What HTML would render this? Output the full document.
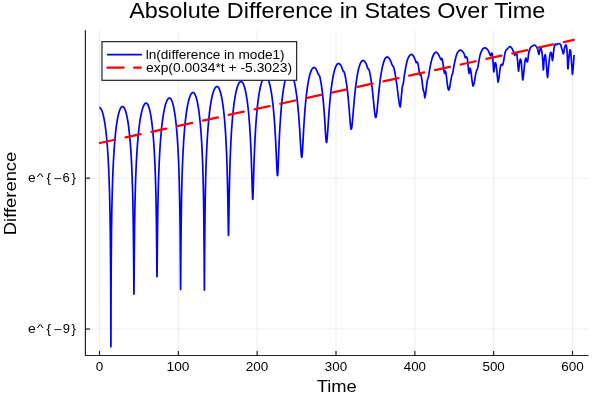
<!DOCTYPE html>
<html><head><meta charset="utf-8"><style>
html,body{margin:0;padding:0;background:#fff;width:600px;height:400px;overflow:hidden;font-family:"Liberation Sans",sans-serif;}
svg{display:block}
</style></head><body>
<svg width="600" height="400" viewBox="0 0 600 400">
<defs><filter id="gs" x="0" y="0" width="600" height="400" filterUnits="userSpaceOnUse"><feColorMatrix type="saturate" values="0"/></filter></defs>
<rect x="0" y="0" width="600" height="400" fill="#fff"/>
<line x1="99.50" y1="30.3" x2="99.50" y2="355.5" stroke="#e9e9e9" stroke-width="0.8"/>
<line x1="178.33" y1="30.3" x2="178.33" y2="355.5" stroke="#e9e9e9" stroke-width="0.8"/>
<line x1="257.17" y1="30.3" x2="257.17" y2="355.5" stroke="#e9e9e9" stroke-width="0.8"/>
<line x1="336.00" y1="30.3" x2="336.00" y2="355.5" stroke="#e9e9e9" stroke-width="0.8"/>
<line x1="414.83" y1="30.3" x2="414.83" y2="355.5" stroke="#e9e9e9" stroke-width="0.8"/>
<line x1="493.66" y1="30.3" x2="493.66" y2="355.5" stroke="#e9e9e9" stroke-width="0.8"/>
<line x1="572.50" y1="30.3" x2="572.50" y2="355.5" stroke="#e9e9e9" stroke-width="0.8"/>
<line x1="85.4" y1="178.15" x2="588.5" y2="178.15" stroke="#e9e9e9" stroke-width="0.8"/>
<line x1="85.4" y1="329.00" x2="588.5" y2="329.00" stroke="#e9e9e9" stroke-width="0.8"/>
<line x1="85.4" y1="30.3" x2="85.4" y2="356.0" stroke="#222" stroke-width="1.2"/>
<line x1="84.9" y1="355.5" x2="588.5" y2="355.5" stroke="#222" stroke-width="1.2"/>
<line x1="99.50" y1="355.5" x2="99.50" y2="350.9" stroke="#222" stroke-width="1.2"/>
<line x1="178.33" y1="355.5" x2="178.33" y2="350.9" stroke="#222" stroke-width="1.2"/>
<line x1="257.17" y1="355.5" x2="257.17" y2="350.9" stroke="#222" stroke-width="1.2"/>
<line x1="336.00" y1="355.5" x2="336.00" y2="350.9" stroke="#222" stroke-width="1.2"/>
<line x1="414.83" y1="355.5" x2="414.83" y2="350.9" stroke="#222" stroke-width="1.2"/>
<line x1="493.66" y1="355.5" x2="493.66" y2="350.9" stroke="#222" stroke-width="1.2"/>
<line x1="572.50" y1="355.5" x2="572.50" y2="350.9" stroke="#222" stroke-width="1.2"/>
<line x1="85.4" y1="178.15" x2="90.0" y2="178.15" stroke="#222" stroke-width="1.2"/>
<line x1="85.4" y1="329.00" x2="90.0" y2="329.00" stroke="#222" stroke-width="1.2"/>
<path d="M99.25,107.50 L99.54,107.54 L99.83,107.65 L100.12,107.85 L100.42,108.12 L100.71,108.47 L101.00,108.91 L101.29,109.42 L101.58,110.02 L101.87,110.70 L102.16,111.47 L102.45,112.34 L102.75,113.29 L103.04,114.35 L103.33,115.50 L103.62,116.76 L103.91,118.14 L104.20,119.63 L104.49,121.25 L104.78,123.00 L105.08,124.90 L105.37,126.95 L105.66,129.17 L105.95,131.57 L106.24,134.17 L106.53,137.00 L106.82,140.08 L107.11,143.45 L107.41,147.13 L107.70,151.20 L107.99,155.71 L108.28,160.75 L108.57,166.44 L108.86,172.94 L109.15,180.50 L109.44,189.50 L109.73,200.55 L110.03,214.85 L110.32,234.98 L110.61,268.87 L110.63,273.03 L110.66,277.53 L110.68,282.45 L110.71,287.85 L110.73,293.83 L110.75,300.49 L110.78,307.95 L110.80,316.31 L110.83,325.53 L110.85,335.10 L110.88,343.29 L110.90,346.75 L110.92,343.16 L110.95,334.72 L110.97,324.95 L111.00,315.60 L111.02,307.16 L111.05,299.64 L111.07,292.95 L111.09,286.94 L111.12,281.52 L111.14,276.59 L111.17,272.08 L111.19,267.92 L111.48,233.99 L111.77,213.85 L112.06,199.56 L112.35,188.50 L112.64,179.50 L112.93,171.94 L113.22,165.44 L113.51,159.75 L113.80,154.71 L114.09,150.20 L114.38,146.14 L114.67,142.45 L114.96,139.08 L115.25,136.00 L115.54,133.17 L115.83,130.57 L116.12,128.17 L116.41,125.95 L116.70,123.90 L116.99,122.00 L117.28,120.25 L117.57,118.63 L117.86,117.14 L118.15,115.76 L118.44,114.50 L118.73,113.35 L119.02,112.29 L119.31,111.34 L119.60,110.47 L119.89,109.70 L120.18,109.02 L120.47,108.42 L120.76,107.91 L121.05,107.47 L121.34,107.12 L121.63,106.85 L121.92,106.65 L122.21,106.54 L122.50,106.50 L122.79,106.54 L123.07,106.65 L123.36,106.85 L123.64,107.12 L123.93,107.47 L124.22,107.91 L124.50,108.42 L124.79,109.02 L125.08,109.70 L125.36,110.47 L125.65,111.33 L125.94,112.29 L126.22,113.34 L126.51,114.50 L126.79,115.76 L127.08,117.13 L127.37,118.62 L127.65,120.24 L127.94,121.99 L128.22,123.88 L128.51,125.93 L128.80,128.15 L129.08,130.55 L129.37,133.15 L129.66,135.97 L129.94,139.05 L130.23,142.41 L130.51,146.09 L130.80,150.14 L131.09,154.64 L131.37,159.66 L131.66,165.32 L131.95,171.78 L132.23,179.29 L132.52,188.19 L132.80,199.07 L133.09,212.99 L133.38,232.08 L133.66,261.19 L133.69,264.31 L133.71,267.54 L133.74,270.87 L133.76,274.28 L133.78,277.73 L133.81,281.16 L133.83,284.47 L133.85,287.56 L133.88,290.25 L133.90,292.37 L133.93,293.73 L133.95,294.20 L133.98,293.66 L134.00,292.11 L134.03,289.73 L134.05,286.73 L134.08,283.33 L134.10,279.72 L134.13,276.03 L134.15,272.36 L134.18,268.76 L134.20,265.26 L134.23,261.89 L134.25,258.66 L134.56,228.94 L134.86,209.71 L135.16,195.74 L135.47,184.83 L135.77,175.92 L136.08,168.41 L136.38,161.94 L136.68,156.27 L136.99,151.25 L137.29,146.75 L137.59,142.69 L137.90,139.01 L138.20,135.65 L138.51,132.58 L138.81,129.75 L139.11,127.15 L139.42,124.75 L139.72,122.53 L140.02,120.49 L140.33,118.59 L140.63,116.84 L140.94,115.22 L141.24,113.73 L141.54,112.36 L141.85,111.10 L142.15,109.94 L142.45,108.89 L142.76,107.93 L143.06,107.07 L143.37,106.30 L143.67,105.62 L143.97,105.02 L144.28,104.51 L144.58,104.07 L144.88,103.72 L145.19,103.45 L145.49,103.25 L145.80,103.14 L146.10,103.10 L146.37,103.14 L146.64,103.25 L146.92,103.45 L147.19,103.72 L147.46,104.07 L147.73,104.51 L148.01,105.02 L148.28,105.62 L148.55,106.30 L148.82,107.07 L149.10,107.93 L149.37,108.89 L149.64,109.94 L149.91,111.09 L150.19,112.35 L150.46,113.73 L150.73,115.22 L151.00,116.83 L151.28,118.58 L151.55,120.47 L151.82,122.52 L152.09,124.73 L152.37,127.13 L152.64,129.73 L152.91,132.55 L153.19,135.62 L153.46,138.97 L153.73,142.65 L154.00,146.69 L154.28,151.18 L154.55,156.18 L154.82,161.82 L155.09,168.25 L155.37,175.70 L155.64,184.52 L155.91,195.26 L156.18,208.87 L156.46,227.15 L156.73,253.19 L156.75,255.76 L156.77,258.36 L156.80,260.96 L156.82,263.55 L156.84,266.08 L156.86,268.50 L156.89,270.75 L156.91,272.75 L156.93,274.42 L156.95,275.69 L156.98,276.48 L157.00,276.75 L157.03,276.42 L157.05,275.45 L157.08,273.92 L157.10,271.92 L157.13,269.57 L157.16,266.96 L157.18,264.19 L157.21,261.34 L157.23,258.45 L157.26,255.58 L157.29,252.74 L157.31,249.96 L157.62,222.69 L157.94,204.07 L158.25,190.33 L158.56,179.53 L158.88,170.68 L159.19,163.21 L159.50,156.76 L159.81,151.11 L160.12,146.10 L160.44,141.61 L160.75,137.56 L161.06,133.89 L161.38,130.53 L161.69,127.46 L162.00,124.64 L162.31,122.04 L162.62,119.64 L162.94,117.43 L163.25,115.38 L163.56,113.48 L163.88,111.74 L164.19,110.12 L164.50,108.63 L164.81,107.26 L165.12,106.00 L165.44,104.84 L165.75,103.79 L166.06,102.83 L166.38,101.97 L166.69,101.20 L167.00,100.52 L167.31,99.92 L167.62,99.41 L167.94,98.97 L168.25,98.62 L168.56,98.35 L168.88,98.15 L169.19,98.04 L169.50,98.00 L169.78,98.04 L170.06,98.15 L170.33,98.35 L170.61,98.62 L170.89,98.97 L171.16,99.41 L171.44,99.92 L171.72,100.52 L172.00,101.20 L172.28,101.97 L172.55,102.83 L172.83,103.79 L173.11,104.84 L173.38,106.00 L173.66,107.26 L173.94,108.63 L174.22,110.12 L174.50,111.74 L174.77,113.49 L175.05,115.39 L175.33,117.43 L175.60,119.65 L175.88,122.05 L176.16,124.65 L176.44,127.48 L176.72,130.55 L176.99,133.91 L177.27,137.59 L177.55,141.65 L177.82,146.15 L178.10,151.17 L178.38,156.84 L178.66,163.31 L178.94,170.82 L179.21,179.73 L179.49,190.64 L179.77,204.62 L180.04,223.86 L180.32,253.63 L180.35,256.88 L180.37,260.26 L180.39,263.77 L180.41,267.38 L180.44,271.08 L180.46,274.79 L180.48,278.42 L180.51,281.85 L180.53,284.88 L180.55,287.29 L180.58,288.86 L180.60,289.40 L180.63,288.72 L180.65,286.80 L180.68,283.88 L180.70,280.30 L180.73,276.33 L180.75,272.21 L180.78,268.08 L180.81,264.03 L180.83,260.11 L180.86,256.35 L180.88,252.76 L180.91,249.35 L181.22,218.73 L181.53,199.29 L181.84,185.24 L182.15,174.29 L182.46,165.36 L182.77,157.84 L183.08,151.36 L183.39,145.69 L183.70,140.66 L184.01,136.16 L184.32,132.10 L184.63,128.42 L184.94,125.06 L185.25,121.98 L185.56,119.16 L185.87,116.55 L186.18,114.15 L186.49,111.94 L186.80,109.89 L187.11,107.99 L187.42,106.24 L187.73,104.63 L188.04,103.13 L188.35,101.76 L188.66,100.50 L188.97,99.34 L189.28,98.29 L189.59,97.33 L189.90,96.47 L190.21,95.70 L190.52,95.02 L190.83,94.42 L191.14,93.91 L191.45,93.47 L191.76,93.12 L192.07,92.85 L192.38,92.65 L192.69,92.54 L193.00,92.50 L193.28,92.54 L193.57,92.65 L193.85,92.85 L194.14,93.12 L194.43,93.47 L194.71,93.91 L195.00,94.42 L195.28,95.02 L195.56,95.70 L195.85,96.47 L196.13,97.33 L196.42,98.29 L196.71,99.34 L196.99,100.50 L197.28,101.76 L197.56,103.13 L197.84,104.63 L198.13,106.24 L198.41,107.99 L198.70,109.89 L198.99,111.94 L199.27,114.15 L199.56,116.56 L199.84,119.16 L200.12,121.98 L200.41,125.06 L200.69,128.42 L200.98,132.11 L201.27,136.16 L201.55,140.66 L201.84,145.69 L202.12,151.36 L202.41,157.84 L202.69,165.37 L202.97,174.30 L203.26,185.25 L203.55,199.31 L203.83,218.78 L204.12,249.51 L204.14,252.95 L204.16,256.56 L204.19,260.36 L204.21,264.31 L204.23,268.42 L204.26,272.61 L204.28,276.81 L204.31,280.85 L204.33,284.52 L204.35,287.52 L204.38,289.50 L204.40,290.20 L204.43,289.32 L204.45,286.84 L204.48,283.19 L204.50,278.83 L204.53,274.15 L204.56,269.41 L204.58,264.76 L204.61,260.29 L204.64,256.03 L204.66,252.00 L204.69,248.19 L204.72,244.58 L205.03,213.09 L205.34,193.45 L205.66,179.33 L205.97,168.35 L206.29,159.40 L206.61,151.87 L206.92,145.38 L207.24,139.71 L207.55,134.68 L207.87,130.17 L208.18,126.11 L208.50,122.43 L208.81,119.07 L209.12,115.99 L209.44,113.16 L209.75,110.56 L210.07,108.16 L210.38,105.94 L210.70,103.89 L211.02,102.00 L211.33,100.24 L211.65,98.63 L211.96,97.14 L212.28,95.76 L212.59,94.50 L212.91,93.34 L213.22,92.29 L213.53,91.34 L213.85,90.47 L214.16,89.70 L214.48,89.02 L214.79,88.42 L215.11,87.91 L215.43,87.47 L215.74,87.12 L216.06,86.85 L216.37,86.65 L216.69,86.54 L217.00,86.50 L217.29,86.54 L217.57,86.65 L217.86,86.85 L218.15,87.12 L218.44,87.47 L218.72,87.90 L219.01,88.42 L219.30,89.01 L219.59,89.69 L219.88,90.46 L220.16,91.32 L220.45,92.28 L220.74,93.33 L221.03,94.48 L221.31,95.74 L221.60,97.10 L221.89,98.59 L222.18,100.20 L222.46,101.95 L222.75,103.83 L223.04,105.87 L223.32,108.08 L223.61,110.46 L223.90,113.05 L224.19,115.86 L224.47,118.91 L224.76,122.24 L225.05,125.89 L225.34,129.90 L225.62,134.34 L225.91,139.28 L226.20,144.83 L226.49,151.14 L226.78,158.41 L227.06,166.92 L227.35,177.11 L227.64,189.64 L227.93,205.35 L228.21,223.99 L228.24,225.51 L228.26,226.98 L228.28,228.39 L228.31,229.73 L228.33,230.96 L228.36,232.09 L228.38,233.08 L228.40,233.93 L228.43,234.60 L228.45,235.10 L228.48,235.40 L228.50,235.50 L228.53,235.38 L228.55,235.01 L228.58,234.41 L228.60,233.59 L228.63,232.58 L228.66,231.39 L228.68,230.06 L228.71,228.61 L228.73,227.06 L228.76,225.43 L228.79,223.75 L228.81,222.03 L229.12,201.74 L229.44,185.37 L229.75,172.55 L230.06,162.20 L230.38,153.61 L230.69,146.29 L231.00,139.94 L231.31,134.37 L231.62,129.40 L231.94,124.95 L232.25,120.93 L232.56,117.28 L232.88,113.94 L233.19,110.88 L233.50,108.07 L233.81,105.48 L234.12,103.09 L234.44,100.89 L234.75,98.84 L235.06,96.96 L235.38,95.21 L235.69,93.60 L236.00,92.11 L236.31,90.74 L236.62,89.48 L236.94,88.33 L237.25,87.28 L237.56,86.33 L237.88,85.47 L238.19,84.70 L238.50,84.01 L238.81,83.42 L239.12,82.90 L239.44,82.47 L239.75,82.12 L240.06,81.85 L240.38,81.65 L240.69,81.54 L241.00,81.50 L241.29,81.54 L241.59,81.65 L241.88,81.85 L242.18,82.12 L242.47,82.46 L242.76,82.89 L243.06,83.40 L243.35,83.99 L243.64,84.67 L243.94,85.44 L244.23,86.29 L244.53,87.23 L244.82,88.28 L245.11,89.42 L245.41,90.66 L245.70,92.02 L245.99,93.49 L246.29,95.08 L246.58,96.81 L246.88,98.67 L247.17,100.68 L247.46,102.85 L247.76,105.20 L248.05,107.74 L248.34,110.50 L248.64,113.48 L248.93,116.73 L249.22,120.27 L249.52,124.15 L249.81,128.41 L250.11,133.13 L250.40,138.37 L250.69,144.23 L250.99,150.83 L251.28,158.32 L251.57,166.82 L251.87,176.35 L252.16,186.49 L252.46,195.43 L252.48,196.01 L252.51,196.55 L252.53,197.05 L252.55,197.50 L252.58,197.91 L252.60,198.27 L252.63,198.58 L252.65,198.84 L252.68,199.04 L252.70,199.18 L252.73,199.27 L252.75,199.30 L252.78,199.26 L252.80,199.16 L252.83,198.98 L252.86,198.74 L252.88,198.43 L252.91,198.05 L252.94,197.62 L252.96,197.12 L252.99,196.57 L253.02,195.98 L253.04,195.33 L253.07,194.64 L253.39,184.35 L253.71,173.21 L254.03,163.06 L254.34,154.18 L254.66,146.46 L254.98,139.70 L255.30,133.73 L255.62,128.41 L255.94,123.65 L256.26,119.34 L256.57,115.43 L256.89,111.86 L257.21,108.59 L257.53,105.59 L257.85,102.82 L258.17,100.27 L258.49,97.91 L258.81,95.73 L259.12,93.71 L259.44,91.84 L259.76,90.11 L260.08,88.51 L260.40,87.04 L260.72,85.68 L261.04,84.43 L261.36,83.29 L261.68,82.24 L261.99,81.30 L262.31,80.44 L262.63,79.68 L262.95,79.00 L263.27,78.41 L263.59,77.90 L263.91,77.47 L264.23,77.12 L264.54,76.85 L264.86,76.65 L265.18,76.54 L265.50,76.50 L265.80,76.54 L266.10,76.65 L266.40,76.84 L266.70,77.11 L267.00,77.45 L267.30,77.88 L267.60,78.38 L267.90,78.97 L268.20,79.64 L268.50,80.39 L268.80,81.23 L269.10,82.17 L269.40,83.20 L269.70,84.32 L270.00,85.55 L270.30,86.88 L270.60,88.33 L270.90,89.90 L271.20,91.59 L271.50,93.42 L271.80,95.39 L272.10,97.51 L272.40,99.80 L272.70,102.28 L273.00,104.94 L273.30,107.83 L273.60,110.95 L273.90,114.34 L274.20,118.03 L274.50,122.05 L274.80,126.43 L275.10,131.24 L275.40,136.51 L275.70,142.29 L276.00,148.57 L276.30,155.31 L276.60,162.25 L276.90,168.77 L277.20,173.71 L277.23,174.00 L277.25,174.27 L277.27,174.52 L277.30,174.74 L277.32,174.94 L277.35,175.11 L277.38,175.26 L277.40,175.38 L277.43,175.48 L277.45,175.55 L277.48,175.59 L277.50,175.60 L277.52,175.58 L277.55,175.53 L277.57,175.45 L277.60,175.34 L277.62,175.19 L277.65,175.02 L277.68,174.81 L277.70,174.57 L277.73,174.31 L277.75,174.01 L277.77,173.69 L277.80,173.34 L278.10,167.60 L278.40,160.25 L278.70,152.67 L279.00,145.46 L279.30,138.84 L279.60,132.83 L279.90,127.39 L280.20,122.45 L280.50,117.97 L280.80,113.87 L281.10,110.13 L281.40,106.69 L281.70,103.53 L282.00,100.62 L282.30,97.92 L282.60,95.43 L282.90,93.12 L283.20,90.98 L283.50,89.00 L283.80,87.16 L284.10,85.46 L284.40,83.88 L284.70,82.43 L285.00,81.08 L285.30,79.85 L285.60,78.72 L285.90,77.69 L286.20,76.75 L286.50,75.91 L286.80,75.15 L287.10,74.48 L287.40,73.89 L287.70,73.38 L288.00,72.96 L288.30,72.61 L288.60,72.34 L288.90,72.15 L289.20,72.04 L289.50,72.00 L289.81,72.04 L290.11,72.15 L290.42,72.34 L290.73,72.60 L291.03,72.94 L291.34,73.36 L291.64,73.85 L291.95,74.43 L292.26,75.09 L292.56,75.83 L292.87,76.66 L293.18,77.58 L293.48,78.59 L293.79,79.69 L294.09,80.89 L294.40,82.20 L294.71,83.62 L295.01,85.15 L295.32,86.80 L295.62,88.57 L295.93,90.49 L296.24,92.54 L296.54,94.76 L296.85,97.13 L297.16,99.69 L297.46,102.45 L297.77,105.41 L298.07,108.60 L298.38,112.04 L298.69,115.75 L298.99,119.75 L299.30,124.05 L299.61,128.66 L299.91,133.55 L300.22,138.67 L300.52,143.87 L300.83,148.86 L301.14,153.19 L301.44,156.21 L301.47,156.38 L301.49,156.53 L301.52,156.68 L301.55,156.81 L301.57,156.92 L301.60,157.02 L301.62,157.11 L301.65,157.18 L301.67,157.23 L301.70,157.27 L301.72,157.29 L301.75,157.30 L301.78,157.29 L301.80,157.26 L301.83,157.22 L301.85,157.15 L301.88,157.07 L301.90,156.97 L301.93,156.85 L301.95,156.71 L301.98,156.55 L302.01,156.38 L302.03,156.19 L302.06,155.99 L302.36,152.43 L302.67,147.45 L302.98,141.84 L303.28,136.13 L303.59,130.61 L303.89,125.41 L304.20,120.56 L304.51,116.07 L304.81,111.93 L305.12,108.11 L305.43,104.58 L305.73,101.31 L306.04,98.29 L306.34,95.48 L306.65,92.88 L306.96,90.47 L307.26,88.22 L307.57,86.14 L307.88,84.21 L308.18,82.41 L308.49,80.74 L308.79,79.20 L309.10,77.77 L309.41,76.45 L309.71,75.24 L310.02,74.13 L310.32,73.11 L310.63,72.19 L310.94,71.35 L311.24,70.61 L311.55,69.95 L311.86,69.37 L312.16,68.87 L312.47,68.45 L312.77,68.10 L313.08,67.84 L313.39,67.65 L313.69,67.54 L314.00,67.50 L314.31,67.54 L314.62,67.65 L314.94,67.83 L315.25,68.09 L315.56,68.42 L315.88,68.83 L316.19,69.32 L316.50,69.89 L316.81,70.53 L317.12,71.26 L317.44,72.07 L317.75,72.97 L318.06,73.95 L319.20,75.03 L319.67,76.21 L319.97,77.48 L320.27,78.86 L320.57,80.34 L320.86,81.94 L321.15,83.66 L321.45,85.51 L321.74,87.49 L322.03,89.61 L322.31,91.89 L322.60,94.32 L322.88,96.93 L323.16,99.71 L323.44,102.69 L323.71,105.87 L323.98,109.26 L324.25,112.86 L324.51,116.66 L324.76,120.64 L325.02,124.76 L325.26,128.93 L325.50,132.98 L325.74,136.69 L325.98,139.74 L326.23,141.78 L326.25,141.89 L326.27,142.00 L326.29,142.09 L326.32,142.18 L326.34,142.25 L326.36,142.32 L326.38,142.37 L326.40,142.42 L326.43,142.45 L326.45,142.48 L326.48,142.49 L326.50,142.50 L326.52,142.49 L326.55,142.48 L326.57,142.45 L326.60,142.40 L326.62,142.35 L326.65,142.29 L326.68,142.21 L326.70,142.12 L326.73,142.02 L326.75,141.91 L326.77,141.79 L326.80,141.65 L327.10,139.27 L327.40,135.77 L327.70,131.58 L328.00,127.09 L328.30,122.55 L328.60,118.12 L328.90,113.88 L329.20,109.88 L329.50,106.11 L329.80,102.59 L330.10,99.30 L330.40,96.23 L330.70,93.37 L331.00,90.70 L331.30,88.21 L331.60,85.89 L331.90,83.73 L332.20,81.72 L332.50,79.84 L332.80,78.10 L333.10,76.48 L333.40,74.97 L333.70,73.58 L334.00,72.29 L334.30,71.10 L334.60,70.01 L334.90,69.01 L335.20,68.11 L335.50,67.29 L335.80,66.56 L336.10,65.91 L336.40,65.34 L336.70,64.84 L337.00,64.43 L337.30,64.09 L337.60,63.83 L337.90,63.65 L338.20,63.54 L338.50,63.50 L338.82,63.54 L339.14,63.64 L339.46,63.82 L339.77,64.08 L340.09,64.40 L340.41,64.80 L340.73,65.28 L341.05,65.83 L341.37,66.46 L341.69,67.16 L342.01,67.95 L342.32,68.82 L342.64,69.78 L342.96,70.83 L344.05,71.96 L344.58,73.19 L344.88,74.52 L345.18,75.95 L345.48,77.49 L345.78,79.13 L346.08,80.90 L346.37,82.78 L346.66,84.79 L346.96,86.93 L347.24,89.21 L347.53,91.64 L347.81,94.21 L348.09,96.93 L348.37,99.81 L348.64,102.84 L348.91,106.00 L349.18,109.28 L349.44,112.64 L349.69,116.02 L349.95,119.33 L350.20,122.44 L350.45,125.18 L350.70,127.36 L350.97,128.76 L350.99,128.84 L351.01,128.91 L351.03,128.97 L351.06,129.03 L351.08,129.08 L351.10,129.13 L351.13,129.16 L351.15,129.20 L351.18,129.22 L351.20,129.24 L351.22,129.25 L351.25,129.25 L351.27,129.25 L351.30,129.23 L351.32,129.22 L351.35,129.19 L351.37,129.15 L351.40,129.11 L351.42,129.06 L351.45,129.00 L351.47,128.94 L351.49,128.86 L351.52,128.78 L351.54,128.70 L351.84,127.11 L352.13,124.68 L352.43,121.64 L352.72,118.24 L353.01,114.65 L353.31,111.03 L353.60,107.47 L353.89,104.01 L354.19,100.70 L354.48,97.54 L354.77,94.56 L355.07,91.75 L355.36,89.10 L355.66,86.61 L355.95,84.28 L356.24,82.09 L356.54,80.04 L356.83,78.12 L357.12,76.33 L357.42,74.65 L357.71,73.09 L358.01,71.64 L358.30,70.30 L358.59,69.05 L358.89,67.90 L359.18,66.84 L359.48,65.88 L359.77,64.99 L360.06,64.20 L360.36,63.48 L360.65,62.85 L360.94,62.29 L361.24,61.81 L361.53,61.41 L361.82,61.08 L362.12,60.83 L362.41,60.64 L362.71,60.54 L363.00,60.50 L363.32,60.53 L363.64,60.64 L363.96,60.81 L364.27,61.06 L364.59,61.37 L364.91,61.76 L365.23,62.22 L365.55,62.75 L365.87,63.35 L366.19,64.03 L366.51,64.79 L366.82,65.63 L367.14,66.55 L367.46,67.55 L367.92,68.63 L369.09,69.81 L369.39,71.07 L369.69,72.43 L369.98,73.88 L370.28,75.43 L370.57,77.09 L370.86,78.85 L371.15,80.71 L371.44,82.69 L371.73,84.79 L372.01,86.99 L372.29,89.31 L372.57,91.74 L372.84,94.27 L373.11,96.90 L373.38,99.59 L373.64,102.34 L373.90,105.08 L374.16,107.77 L374.42,110.33 L374.67,112.66 L374.93,114.65 L375.19,116.19 L375.46,117.17 L375.48,117.22 L375.51,117.27 L375.53,117.31 L375.55,117.35 L375.58,117.39 L375.60,117.42 L375.63,117.44 L375.65,117.46 L375.67,117.48 L375.70,117.49 L375.72,117.50 L375.75,117.50 L375.77,117.50 L375.80,117.49 L375.82,117.48 L375.84,117.46 L375.87,117.43 L375.89,117.40 L375.91,117.37 L375.94,117.33 L375.96,117.28 L375.98,117.23 L376.01,117.17 L376.03,117.11 L376.31,115.98 L376.59,114.21 L376.88,111.94 L377.16,109.31 L377.44,106.46 L377.72,103.50 L378.00,100.51 L378.28,97.54 L378.56,94.66 L378.84,91.86 L379.12,89.19 L379.41,86.63 L379.69,84.21 L379.97,81.91 L380.25,79.73 L380.53,77.68 L380.81,75.75 L381.09,73.94 L381.38,72.24 L381.66,70.65 L381.94,69.16 L382.22,67.77 L382.50,66.48 L382.78,65.28 L383.06,64.17 L383.34,63.15 L383.62,62.21 L383.91,61.36 L384.19,60.59 L384.47,59.90 L384.75,59.28 L385.03,58.74 L385.31,58.28 L385.59,57.88 L385.88,57.57 L386.16,57.32 L386.44,57.14 L386.72,57.04 L387.00,57.00 L387.33,57.03 L387.67,57.13 L388.00,57.30 L388.34,57.54 L388.68,57.84 L389.01,58.21 L389.34,58.65 L389.68,59.16 L390.01,59.74 L390.35,60.39 L390.69,61.12 L391.02,61.92 L391.36,62.79 L391.69,63.74 L392.02,64.78 L392.74,65.89 L393.67,67.08 L393.99,68.36 L394.30,69.72 L394.61,71.18 L394.92,72.72 L395.22,74.35 L395.52,76.07 L395.83,77.89 L396.12,79.79 L396.42,81.78 L396.71,83.86 L397.00,86.01 L397.29,88.22 L397.58,90.49 L397.86,92.78 L398.14,95.08 L398.42,97.33 L398.69,99.49 L398.97,101.50 L399.24,103.30 L399.52,104.80 L399.80,105.94 L400.09,106.66 L400.12,106.70 L400.14,106.73 L400.17,106.76 L400.19,106.79 L400.22,106.82 L400.24,106.84 L400.27,106.86 L400.29,106.87 L400.32,106.88 L400.35,106.89 L400.37,106.90 L400.40,106.90 C400.59,104.92 401.17,98.44 401.50,95.00 C401.83,91.56 402.11,88.12 402.40,86.25 C402.69,84.38 402.94,85.42 403.25,83.75 C403.56,82.08 403.88,78.75 404.25,76.25 C404.62,73.75 404.98,71.46 405.50,68.75 C406.02,66.04 406.77,62.12 407.40,60.00 C408.02,57.88 408.57,56.93 409.25,56.00 C409.93,55.07 410.77,54.36 411.50,54.40 C412.23,54.44 412.93,55.22 413.60,56.25 C414.27,57.28 415.08,59.56 415.50,60.60 C415.92,61.64 415.85,62.28 416.10,62.50 C416.35,62.72 416.68,61.69 417.00,61.90 C417.32,62.11 417.67,62.40 418.00,63.75 C418.33,65.10 418.68,68.12 419.00,70.00 C419.32,71.88 419.61,74.27 419.90,75.00 C420.19,75.73 420.44,73.78 420.75,74.40 C421.06,75.03 421.38,76.36 421.75,78.75 C422.12,81.14 422.58,86.36 423.00,88.75 C423.42,91.14 423.96,91.54 424.25,93.10 C424.54,94.66 424.50,98.10 424.75,98.10 C425.00,98.10 425.38,95.70 425.75,93.10 C426.12,90.50 426.62,85.00 427.00,82.50 C427.38,80.00 427.73,79.14 428.00,78.10 C428.27,77.06 428.28,77.92 428.60,76.25 C428.92,74.58 429.42,70.71 429.90,68.10 C430.38,65.49 430.92,62.78 431.50,60.60 C432.08,58.42 432.67,56.42 433.40,55.00 C434.13,53.58 435.13,52.31 435.90,52.10 C436.67,51.89 437.32,52.83 438.00,53.75 C438.68,54.67 439.50,56.64 440.00,57.60 C440.50,58.56 440.71,59.35 441.00,59.50 C441.29,59.65 441.50,58.29 441.75,58.50 C442.00,58.71 442.21,59.33 442.50,60.75 C442.79,62.17 443.18,64.92 443.50,67.00 C443.82,69.08 444.11,72.62 444.40,73.25 C444.69,73.88 444.98,70.75 445.25,70.75 C445.52,70.75 445.73,71.58 446.00,73.25 C446.27,74.92 446.61,78.46 446.90,80.75 C447.19,83.04 447.44,85.44 447.75,87.00 C448.06,88.56 448.42,90.10 448.75,90.10 C449.08,90.10 449.38,88.77 449.75,87.00 C450.12,85.23 450.64,81.48 451.00,79.50 C451.36,77.52 451.61,76.18 451.90,75.10 C452.19,74.02 452.44,74.35 452.75,73.00 C453.06,71.65 453.38,69.04 453.75,67.00 C454.12,64.96 454.48,62.93 455.00,60.75 C455.52,58.57 456.27,55.52 456.90,53.90 C457.52,52.27 458.13,51.63 458.75,51.00 C459.37,50.37 459.98,50.03 460.60,50.10 C461.23,50.17 461.87,50.67 462.50,51.40 C463.13,52.13 463.94,53.47 464.40,54.50 C464.86,55.53 464.94,57.23 465.25,57.60 C465.56,57.98 465.92,56.64 466.25,56.75 C466.58,56.86 466.94,56.75 467.25,58.25 C467.56,59.75 467.81,63.25 468.10,65.75 C468.39,68.25 468.68,72.83 469.00,73.25 C469.32,73.67 469.67,68.46 470.00,68.25 C470.33,68.04 470.68,70.12 471.00,72.00 C471.32,73.88 471.61,77.32 471.90,79.50 C472.19,81.68 472.52,84.06 472.75,85.10 C472.98,86.14 472.98,86.27 473.25,85.75 C473.52,85.23 474.01,83.88 474.40,82.00 C474.79,80.12 475.25,76.38 475.60,74.50 C475.95,72.62 476.18,71.68 476.50,70.75 C476.82,69.82 477.12,70.36 477.50,68.90 C477.88,67.44 478.29,64.40 478.75,62.00 C479.21,59.60 479.62,56.62 480.25,54.50 C480.88,52.38 481.75,50.35 482.50,49.25 C483.25,48.15 484.02,47.98 484.75,47.90 C485.48,47.82 486.27,48.27 486.90,48.80 C487.52,49.33 488.02,50.19 488.50,51.10 C488.98,52.01 489.40,53.52 489.75,54.25 C490.10,54.98 490.31,55.67 490.60,55.50 C490.89,55.33 491.23,53.46 491.50,53.25 C491.77,53.04 491.98,52.62 492.25,54.25 C492.52,55.88 492.85,60.08 493.10,63.00 C493.35,65.92 493.53,70.92 493.75,71.75 C493.97,72.58 494.19,69.46 494.40,68.00 C494.61,66.54 494.73,63.62 495.00,63.00 C495.27,62.38 495.68,62.79 496.00,64.25 C496.32,65.71 496.65,69.46 496.90,71.75 C497.15,74.04 497.30,76.22 497.50,78.00 C497.70,79.78 497.85,82.40 498.10,82.40 C498.35,82.40 498.68,80.19 499.00,78.00 C499.32,75.81 499.67,71.43 500.00,69.25 C500.33,67.07 500.68,65.73 501.00,64.90 C501.32,64.07 501.61,64.25 501.90,64.25 C502.19,64.25 502.44,65.53 502.75,64.90 C503.06,64.28 503.38,62.48 503.75,60.50 C504.12,58.52 504.58,54.77 505.00,53.00 C505.42,51.23 505.83,50.57 506.25,49.90 C506.67,49.23 506.98,49.52 507.50,49.00 C508.02,48.48 508.77,47.02 509.40,46.75 C510.02,46.48 510.69,46.88 511.25,47.40 C511.81,47.92 512.29,48.97 512.75,49.90 C513.21,50.83 513.67,52.07 514.00,53.00 C514.33,53.93 514.48,55.50 514.75,55.50 C515.02,55.50 515.24,53.21 515.60,53.00 C515.96,52.79 516.54,52.58 516.90,54.25 C517.26,55.92 517.48,60.19 517.75,63.00 C518.02,65.81 518.23,70.89 518.50,71.10 C518.77,71.31 519.11,66.22 519.40,64.25 C519.69,62.27 519.94,59.67 520.25,59.25 C520.56,58.83 520.98,59.88 521.25,61.75 C521.52,63.62 521.65,67.47 521.90,70.50 C522.15,73.53 522.44,79.48 522.75,79.90 C523.06,80.32 523.42,75.82 523.75,73.00 C524.08,70.18 524.42,65.50 524.75,63.00 C525.08,60.50 525.39,58.21 525.75,58.00 C526.11,57.79 526.57,61.33 526.90,61.75 C527.23,62.17 527.44,61.96 527.75,60.50 C528.06,59.04 528.38,54.98 528.75,53.00 C529.12,51.02 529.62,49.62 530.00,48.60 C530.38,47.58 530.58,47.33 531.00,46.90 C531.42,46.47 531.93,46.32 532.50,46.00 C533.07,45.68 533.82,44.96 534.40,45.00 C534.98,45.04 535.52,45.73 536.00,46.25 C536.48,46.77 536.90,47.27 537.25,48.10 C537.60,48.93 537.81,50.20 538.10,51.25 C538.39,52.30 538.68,54.71 539.00,54.40 C539.32,54.09 539.62,50.34 540.00,49.40 C540.38,48.46 540.90,48.02 541.25,48.75 C541.60,49.48 541.83,51.46 542.10,53.75 C542.38,56.04 542.68,59.79 542.90,62.50 C543.12,65.21 543.20,70.42 543.40,70.00 C543.60,69.58 543.83,62.50 544.10,60.00 C544.37,57.50 544.75,55.62 545.00,55.00 C545.25,54.38 545.35,54.38 545.60,56.25 C545.85,58.12 546.18,62.71 546.50,66.25 C546.82,69.79 547.17,77.29 547.50,77.50 C547.83,77.71 548.12,71.04 548.50,67.50 C548.88,63.96 549.40,58.75 549.75,56.25 C550.10,53.75 550.31,52.92 550.60,52.50 C550.89,52.08 551.18,52.40 551.50,53.75 C551.82,55.10 552.17,60.81 552.50,60.60 C552.83,60.39 553.18,54.89 553.50,52.50 C553.82,50.11 554.08,47.67 554.40,46.25 C554.72,44.83 555.05,44.21 555.40,44.00 C555.75,43.79 556.15,45.00 556.50,45.00 C556.85,45.00 557.02,44.21 557.50,44.00 C557.98,43.79 558.92,43.68 559.40,43.75 C559.88,43.82 560.05,43.77 560.40,44.40 C560.75,45.02 561.15,46.36 561.50,47.50 C561.85,48.64 562.17,50.21 562.50,51.25 C562.83,52.29 563.18,54.17 563.50,53.75 C563.82,53.33 564.05,50.21 564.40,48.75 C564.75,47.29 565.25,45.42 565.60,45.00 C565.95,44.58 566.23,44.79 566.50,46.25 C566.77,47.71 567.02,50.00 567.25,53.75 C567.48,57.50 567.65,67.71 567.90,68.75 C568.15,69.79 568.44,63.02 568.75,60.00 C569.06,56.98 569.44,52.06 569.75,50.60 C570.06,49.14 570.35,49.89 570.60,51.25 C570.85,52.61 571.03,56.04 571.25,58.75 C571.47,61.46 571.69,64.89 571.90,67.50 C572.11,70.11 572.25,74.82 572.50,74.40 C572.75,73.98 573.13,68.23 573.40,65.00 C573.67,61.77 573.98,56.67 574.10,55.00" fill="none" stroke="#0000ff" stroke-width="1.7" stroke-linejoin="round"/>
<path d="M99.85,142.99 L573.80,39.92" fill="none" stroke="#ff0000" stroke-width="2.25" stroke-linecap="round" stroke-dasharray="15.3 11.08"/>
<rect x="101.95" y="41.65" width="194.7" height="38.65" fill="#fff" stroke="#1a1a1a" stroke-width="1.15"/>
<line x1="107.7" y1="54.7" x2="141.2" y2="54.7" stroke="#0000ff" stroke-width="1.7" stroke-linecap="round"/>
<line x1="107.4" y1="67.55" x2="123.6" y2="67.55" stroke="#ff0000" stroke-width="2.25" stroke-linecap="round"/>
<line x1="134.0" y1="67.55" x2="140.9" y2="67.55" stroke="#ff0000" stroke-width="2.25" stroke-linecap="round"/>
<g font-family="Liberation Sans, sans-serif" fill="#000" filter="url(#gs)"><text x="145.68" y="58.90" font-size="12.2" textLength="138.96" lengthAdjust="spacingAndGlyphs">ln(difference in mode1)</text>
<text x="146.01" y="72.30" font-size="12.2" textLength="146.15" lengthAdjust="spacingAndGlyphs">exp(0.0034*t + -5.3023)</text>
<text x="129.15" y="17.90" font-size="21.8" textLength="416.18" lengthAdjust="spacingAndGlyphs">Absolute Difference in States Over Time</text>
<text x="95.72" y="371.10" font-size="13" textLength="7.56" lengthAdjust="spacingAndGlyphs">0</text>
<text x="166.64" y="371.10" font-size="13" textLength="22.88" lengthAdjust="spacingAndGlyphs">100</text>
<text x="245.84" y="371.10" font-size="13" textLength="22.51" lengthAdjust="spacingAndGlyphs">200</text>
<text x="324.84" y="371.10" font-size="13" textLength="22.33" lengthAdjust="spacingAndGlyphs">300</text>
<text x="403.88" y="371.10" font-size="13" textLength="22.12" lengthAdjust="spacingAndGlyphs">400</text>
<text x="482.48" y="371.10" font-size="13" textLength="22.36" lengthAdjust="spacingAndGlyphs">500</text>
<text x="561.16" y="371.10" font-size="13" textLength="22.51" lengthAdjust="spacingAndGlyphs">600</text>
<text x="316.69" y="391.60" font-size="16.5" textLength="40.11" lengthAdjust="spacingAndGlyphs">Time</text>
<text transform="rotate(-90)" x="-235.25" y="16.25" font-size="16.5" textLength="83.57" lengthAdjust="spacingAndGlyphs">Difference</text>
<text transform="matrix(1.1082,0,0,0.9930,27.912,182.179)" font-size="12.5">e</text>
<text transform="matrix(1.1753,0,0,0.7123,36.678,179.826)" font-size="12.5">^</text>
<text transform="matrix(1.0674,0,0,0.9698,46.529,181.784)" font-size="12.5">{</text>
<text transform="matrix(1.1938,0,0,1.0000,53.264,182.656)" font-size="12.5">−</text>
<text transform="matrix(1.0403,0,0,1.0169,62.590,182.376)" font-size="12.5">6</text>
<text transform="matrix(1.0691,0,0,0.9698,71.528,181.784)" font-size="12.5">}</text>
<text transform="matrix(1.1082,0,0,0.9930,27.912,333.029)" font-size="12.5">e</text>
<text transform="matrix(1.1753,0,0,0.7123,36.678,330.676)" font-size="12.5">^</text>
<text transform="matrix(1.0674,0,0,0.9698,46.529,332.634)" font-size="12.5">{</text>
<text transform="matrix(1.1938,0,0,1.0000,53.264,333.506)" font-size="12.5">−</text>
<text transform="matrix(1.0392,0,0,1.0169,62.641,333.226)" font-size="12.5">9</text>
<text transform="matrix(1.0691,0,0,0.9698,71.528,332.634)" font-size="12.5">}</text></g>
</svg>
</body></html>
